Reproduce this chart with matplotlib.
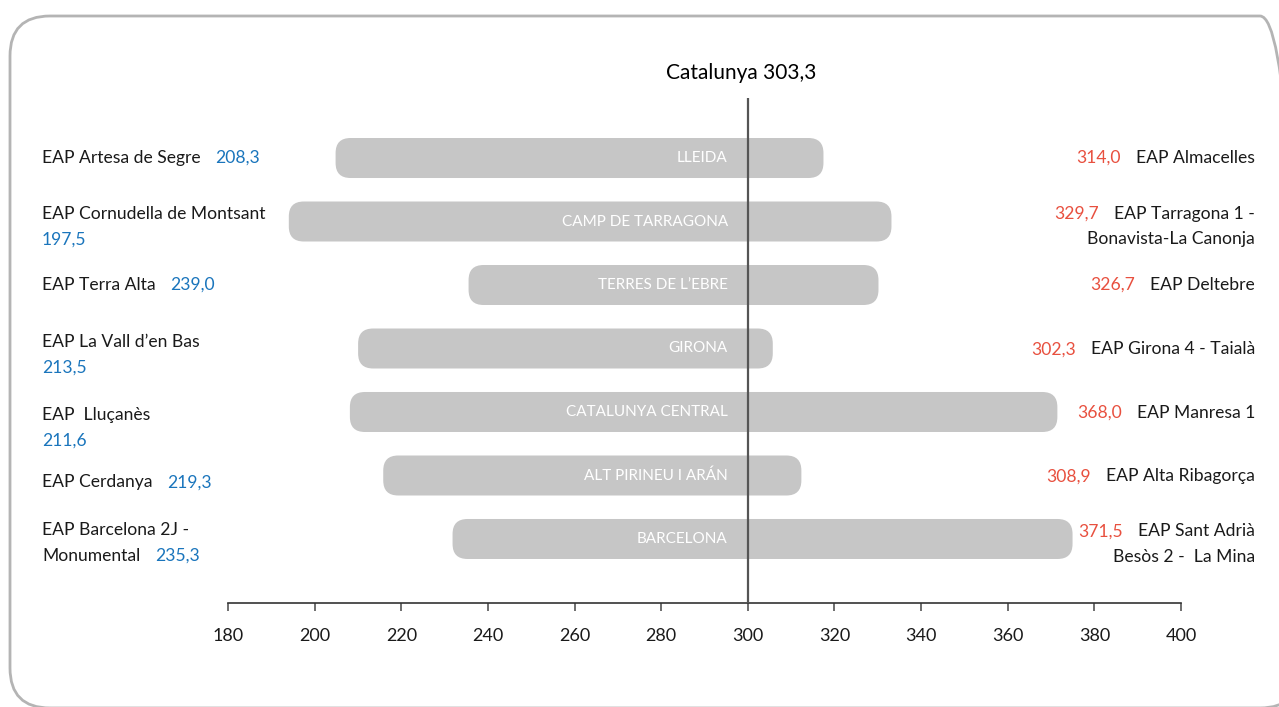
import matplotlib.pyplot as plt
from matplotlib.patches import FancyBboxPatch
from matplotlib.transforms import blended_transform_factory, IdentityTransform

regions = ['LLEIDA', 'CAMP DE TARRAGONA', 'TERRES DE L\u2019EBRE', 'GIRONA',
           'CATALUNYA CENTRAL', 'ALT PIRINEU I ARÁN', 'BARCELONA']
min_vals = [208.3, 197.5, 239.0, 213.5, 211.6, 219.3, 235.3]
max_vals = [314.0, 329.7, 326.7, 302.3, 368.0, 308.9, 371.5]
min_names = ['EAP Artesa de Segre', 'EAP Cornudella de Montsant', 'EAP Terra Alta',
             'EAP La Vall d\u2019en Bas', 'EAP  Lluçanès', 'EAP Cerdanya',
             'EAP Barcelona 2J -\nMonumental']
max_names = ['EAP Almacelles', 'EAP Tarragona 1 -\nBonavista-La Canonja', 'EAP Deltebre',
             'EAP Girona 4 - Taialà', 'EAP Manresa 1', 'EAP Alta Ribagorça',
             'EAP Sant Adrià\nBesòs 2 -  La Mina']
min_own_line = [False, True, False, True, True, False, False]
catalunya = 303.3
ref_x = 300
xticks = list(range(180, 401, 20))

plt.rcParams['font.family'] = ['Lato', 'DejaVu Sans']
BLUE = '#1a75bc'
RED = '#e8503f'
GRAY = '#c6c6c6'
W, H = 1279, 707

fig = plt.figure(figsize=(W / 100, H / 100), dpi=100)
ax = fig.add_axes([228 / W, 1 - 603 / H, (1181 - 228) / W, (603 - 98) / H])
ax.set_xlim(180, 400)
ax.set_ylim(7.008, -0.945)

# rounded frame round the whole picture
frame = FancyBboxPatch((10, -1), 1290, H - 15, boxstyle='round,pad=0,rounding_size=40',
                       transform=IdentityTransform(), fill=False, ec='#b4b4b4', lw=2)
fig.patches.append(frame)

fig.canvas.draw()
p0 = ax.transData.transform((0, 0))
p1 = ax.transData.transform((1, 1))
px_x = abs(p1[0] - p0[0])
px_y = abs(p1[1] - p0[1])
pad = 15 / px_x
bar_h = 40 / px_y
aspect = (15 / px_y) / pad

for i, r in enumerate(regions):
    lo = min_vals[i] - pad
    hi = max_vals[i] + pad
    box = FancyBboxPatch((lo, i - bar_h / 2), hi - lo, bar_h,
                         boxstyle='round,pad=0,rounding_size=%f' % pad,
                         mutation_aspect=aspect, fc=GRAY, ec='none', zorder=2)
    ax.add_patch(box)
    ax.annotate(r, xy=(ref_x, i), xytext=(-20 * 0.72, 0), textcoords='offset points',
                ha='right', va='center', color='white', fontsize=11, zorder=3)

ax.axvline(ref_x, color='#555555', lw=1.6, zorder=4)

fmt = lambda v: f'{v:.1f}'.replace('.', ',')
tr = blended_transform_factory(fig.transFigure, ax.transData)
line_h = 25.5 * 0.72
left_nudge = [0, 5, 0, 6, 16, 7, 4]
right_nudge = [0, 5, 0, 1, 1, 1, 5]
gap = 15 * 0.72
fs = 12.6

for i in range(len(regions)):
    # left side: minimum
    lines = min_names[i].split('\n')
    n = len(lines) + (1 if min_own_line[i] else 0)
    y0 = (n - 1) / 2 * line_h - left_nudge[i] * 0.72
    t = None
    for k, line in enumerate(lines):
        t = ax.annotate(line, xy=(42 / W, i), xycoords=tr, xytext=(0, y0 - k * line_h),
                        textcoords='offset points', ha='left', va='center',
                        fontsize=fs, color='#1a1a1a', annotation_clip=False)
    if min_own_line[i]:
        ax.annotate(fmt(min_vals[i]), xy=(42 / W, i), xycoords=tr,
                    xytext=(0, y0 - len(lines) * line_h), textcoords='offset points',
                    ha='left', va='center', fontsize=fs, color=BLUE, annotation_clip=False)
    else:
        ax.annotate(fmt(min_vals[i]), xy=(1, 0), xycoords=t, xytext=(gap, 0),
                    textcoords='offset points', ha='left', va='bottom',
                    fontsize=fs, color=BLUE, annotation_clip=False)

    # right side: maximum
    lines = max_names[i].split('\n')
    n = len(lines)
    y0 = (n - 1) / 2 * line_h - right_nudge[i] * 0.72
    first = None
    for k, line in enumerate(lines):
        t = ax.annotate(line, xy=(1255 / W, i), xycoords=tr, xytext=(0, y0 - k * line_h),
                        textcoords='offset points', ha='right', va='center',
                        fontsize=fs, color='#1a1a1a', annotation_clip=False)
        if k == 0:
            first = t
    ax.annotate(fmt(max_vals[i]), xy=(0, 0), xycoords=first, xytext=(-gap, 0),
                textcoords='offset points', ha='right', va='bottom',
                fontsize=fs, color=RED, annotation_clip=False)

fig.text(741 / W, 1 - 73 / H, 'Catalunya ' + fmt(catalunya), ha='center', va='center',
         fontsize=15, color='black')

for s in ['top', 'right', 'left']:
    ax.spines[s].set_visible(False)
ax.spines['bottom'].set_bounds(180, 400)
ax.spines['bottom'].set_color('#333333')
ax.spines['bottom'].set_linewidth(1.2)
ax.set_yticks([])
ax.set_xticks(xticks)
ax.tick_params(axis='x', length=6, width=1.2, color='#555555', pad=12,
               labelsize=13, labelcolor='#1a1a1a')

fig.savefig('out.png', dpi=100)
